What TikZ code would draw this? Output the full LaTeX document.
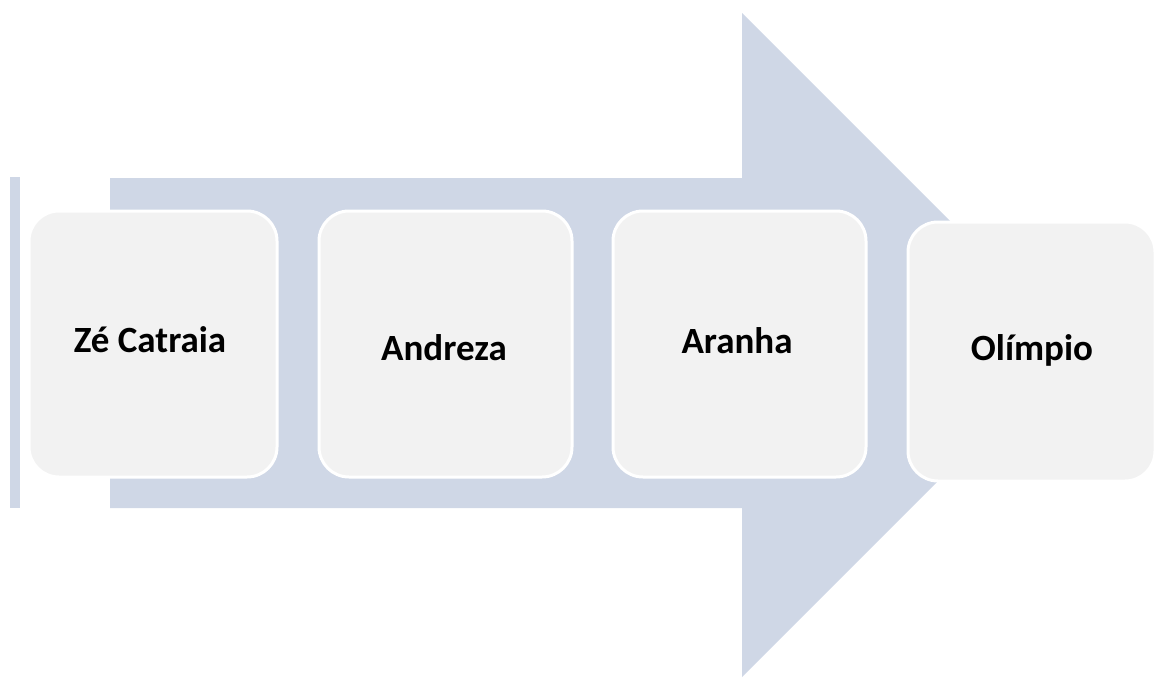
\documentclass[tikz,border=0pt]{standalone}
\usepackage{fontspec}
\setmainfont{Carlito}
\definecolor{arrowblue}{RGB}{207,215,230}
\definecolor{boxgray}{RGB}{242,242,242}
\begin{document}
\begin{tikzpicture}[x=1pt,y=-1pt,
  stagebox/.style={draw=white, line width=3pt, fill=boxgray, rounded corners=30pt},
  stagelabel/.style={anchor=base, font=\fontsize{37}{40}\selectfont\bfseries, text=black, inner sep=0pt}]
  \useasboundingbox (0,0) rectangle (1157,678);
  % background arrow
  \fill[arrowblue] (110,178) -- (742,178) -- (742,13) -- (1074,345) -- (742,677) -- (742,508) -- (110,508) -- cycle;
  \fill[arrowblue] (10,177) rectangle (20,508);
  % stage boxes
  \draw[stagebox] (29,211) rectangle (277,477);
  \draw[stagebox] (319,211) rectangle (572,477);
  \draw[stagebox] (613,211) rectangle (866,477);
  \draw[stagebox] (908,222) rectangle (1155,481);
  % labels
  \node[stagelabel] (ze) at (150,352) {Zé Catraia};
  \node[stagelabel] (andreza) at (444,360) {Andreza};
  \node[stagelabel] (aranha) at (737,353) {Aranha};
  \node[stagelabel] (olimpio) at (1032,360) {Olímpio};
\end{tikzpicture}
\end{document}
